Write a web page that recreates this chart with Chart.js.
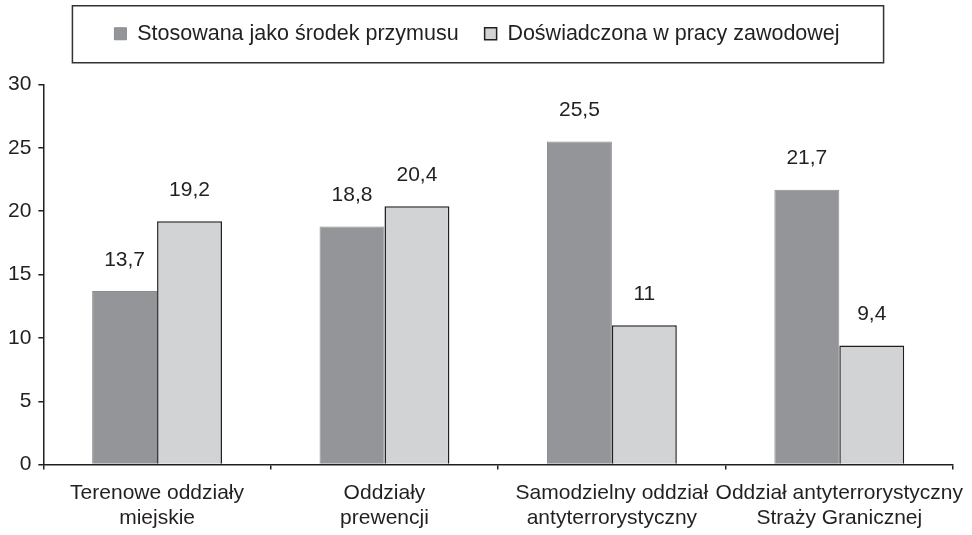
<!DOCTYPE html>
<html lang="pl">
<head>
<meta charset="UTF-8">
<title>Przemoc - wykres</title>
<script src="https://cdn.jsdelivr.net/npm/chart.js"></script>
<style>
  body { margin: 0; background: #fff; }
  #wrap { width: 972px; height: 535px; }
</style>
</head>
<body>
<div id="wrap"><canvas id="chart"></canvas></div>
<script>
const categories = [
    ["Terenowe oddziały", "miejskie"],
    ["Oddziały", "prewencji"],
    ["Samodzielny oddział", "antyterrorystyczny"],
    ["Oddział antyterrorystyczny", "Straży Granicznej"]
];
const seriesNames = ["Stosowana jako środek przymusu", "Doświadczona w pracy zawodowej"];
const stosowana = [13.7, 18.8, 25.5, 21.7];
const doswiadczona = [19.2, 20.4, 11, 9.4];
const yMin = 0, yMax = 30, yStep = 5;

const ink = '#231f20';
Chart.defaults.font.family = '"Liberation Sans", Arial, sans-serif';
Chart.defaults.color = ink;

// value labels above the bars, decimal comma
const valueLabels = {
    id: 'valueLabels',
    afterDatasetsDraw(chart) {
        const ctx = chart.ctx;
        ctx.save();
        ctx.font = '21px "Liberation Sans", Arial, sans-serif';
        ctx.fillStyle = ink;
        ctx.textAlign = 'center';
        ctx.textBaseline = 'middle';
        chart.data.datasets.forEach((ds, i) => {
            chart.getDatasetMeta(i).data.forEach((bar, j) => {
                ctx.fillText(String(ds.data[j]).replace('.', ','), bar.x, bar.y - 31);
            });
        });
        ctx.restore();
    }
};

// frame around the legend
const legendFrame = {
    id: 'legendFrame',
    afterDraw(chart) {
        const boxes = chart.legend && chart.legend.legendHitBoxes;
        if (!boxes || !boxes.length) return;
        const first = boxes[0], last = boxes[boxes.length - 1];
        const cy = first.top + first.height / 2;
        const left = first.left - 42;
        const right = last.left + last.width + 44;
        const ctx = chart.ctx;
        ctx.save();
        ctx.strokeStyle = '#333';
        ctx.lineWidth = 1.5;
        ctx.strokeRect(left, cy - 28, right - left, 57);
        ctx.restore();
    }
};

const ctx = document.getElementById('chart').getContext('2d');
const chart = new Chart(ctx, {
    type: 'bar',
    data: {
        labels: categories,
        datasets: [{
            label: seriesNames[0],
            data: stosowana,
            backgroundColor: '#939598',
            borderColor: '#8a8c8f',
            borderWidth: 1,
            categoryPercentage: 0.571,
            barPercentage: 1.0
        }, {
            label: seriesNames[1],
            data: doswiadczona,
            backgroundColor: '#d1d3d4',
            borderColor: ink,
            borderWidth: 1.5,
            categoryPercentage: 0.571,
            barPercentage: 1.0
        }]
    },
    options: {
        responsive: true,
        maintainAspectRatio: false,
        animation: false,
        layout: { padding: { left: 1, right: 19, top: -3, bottom: -7 } },
        plugins: {
            legend: {
                position: 'top',
                weight: 3000,
                labels: {
                    boxWidth: 12,
                    boxHeight: 12,
                    padding: 26,
                    color: ink,
                    font: { size: 21.5 }
                }
            },
            // empty title used as a gap between legend and plot
            title: {
                display: true,
                text: '',
                padding: { top: 10, bottom: 8 },
                font: { size: 10, lineHeight: 1.2 }
            },
            tooltip: { enabled: false }
        },
        scales: {
            x: {
                // let the long last label hang past the plot edge
                afterFit: (scale) => { scale.paddingLeft = 0; scale.paddingRight = 0; },
                ticks: {
                    padding: 11,
                    maxRotation: 0,
                    autoSkip: false,
                    color: ink,
                    font: { size: 21, lineHeight: 1.2 }
                },
                grid: {
                    offset: true,
                    drawOnChartArea: false,
                    tickLength: 5,
                    color: ink,
                    lineWidth: 1.5
                },
                border: { color: ink, width: 1.5 }
            },
            y: {
                min: yMin,
                max: yMax,
                ticks: {
                    stepSize: yStep,
                    padding: 7,
                    color: ink,
                    font: { size: 21 }
                },
                grid: {
                    drawOnChartArea: false,
                    tickLength: 5,
                    color: ink,
                    lineWidth: 1.5
                },
                border: { color: ink, width: 1.5 }
            }
        }
    },
    plugins: [valueLabels, legendFrame]
});
</script>
</body>
</html>
